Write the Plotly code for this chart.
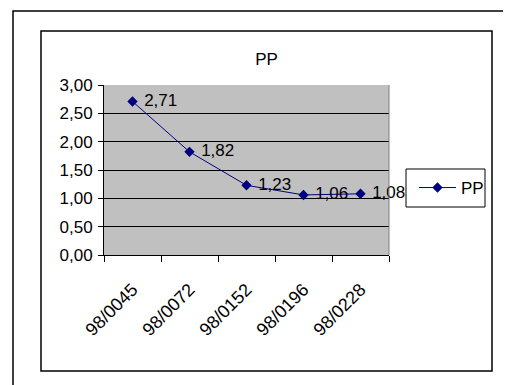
import plotly.graph_objects as go

categories = ["98/0045", "98/0072", "98/0152", "98/0196", "98/0228"]
pp_values = [2.71, 1.82, 1.23, 1.06, 1.08]
series_name = "PP"
chart_title = "PP"

OFF = 8  # page body margin of the html page
W, H = 511 - OFF, 385 - OFF
L, R, T, B = 104, 389, 85, 255  # plot area bounds in page pixels
PW, PH = R - L, B - T


def px(x):
    return (x - L) / PW


def py(y):
    return (B - y) / PH


FONT = "Liberation Sans, Arial, sans-serif"
FS = 17
NAVY = "#000080"

fig = go.Figure()
fig.add_trace(go.Scatter(
    x=categories, y=pp_values, name=series_name,
    mode="lines+markers+text",
    line=dict(color=NAVY, width=1),
    marker=dict(symbol="diamond", size=8, color=NAVY),
    texttemplate="\u2004%{y:.2f}", textposition="middle right",
    textfont=dict(family=FONT, size=FS, color="black"),
    cliponaxis=False,
))

shapes = [
    # outer frame
    dict(type="rect", xref="paper", yref="paper", x0=px(13), x1=px(560), y0=py(440), y1=py(11),
         line=dict(color="black", width=1.5), layer="below"),
    # chart area frame
    dict(type="rect", xref="paper", yref="paper", x0=px(41), x1=px(492), y0=py(371), y1=py(31),
         line=dict(color="black", width=1.5), layer="below"),
    # plot area right edge
    dict(type="line", xref="paper", yref="paper", x0=1, x1=1, y0=0, y1=1,
         line=dict(color="#808080", width=1)),
    # legend box
    dict(type="rect", xref="paper", yref="paper", x0=px(406), x1=px(485), y0=py(207), y1=py(169),
         line=dict(color="black", width=1), fillcolor="white", layer="below"),
]

fig.update_layout(
    width=W, height=H,
    margin=dict(l=L - OFF, r=W - (R - OFF), t=T - OFF, b=H - (B - OFF), pad=0),
    paper_bgcolor="white", plot_bgcolor="#C0C0C0",
    separators=",.",
    font=dict(family=FONT, size=FS, color="black"),
    title=dict(text=chart_title, x=px(266.5), xref="paper", xanchor="center",
               y=1 - (59 - OFF) / H, yanchor="middle", font=dict(family=FONT, size=FS, color="black")),
    showlegend=True,
    legend=dict(x=px(414), y=py(188), xanchor="left", yanchor="middle", itemwidth=37,
                bgcolor="rgba(0,0,0,0)", borderwidth=0, font=dict(family=FONT, size=FS, color="black")),
    shapes=shapes,
    xaxis=dict(type="category", range=[-0.5, 4.5], showgrid=False, showline=True, linecolor="black",
               linewidth=1, ticks="outside", tickson="boundaries", ticklen=6, tickcolor="black",
               tickangle=-45, ticklabelstandoff=16,
               tickfont=dict(family=FONT, size=18, color="black"), fixedrange=True),
    yaxis=dict(range=[0, 3], dtick=0.5, tick0=0, tickformat=".2f", showgrid=True, gridcolor="black",
               gridwidth=1, showline=True, linecolor="black", linewidth=1, ticks="outside", ticklen=5,
               tickcolor="black", ticklabelstandoff=2,
               tickfont=dict(family=FONT, size=FS, color="black"), zeroline=False,
               fixedrange=True),
)

fig.write_html("out.html")
